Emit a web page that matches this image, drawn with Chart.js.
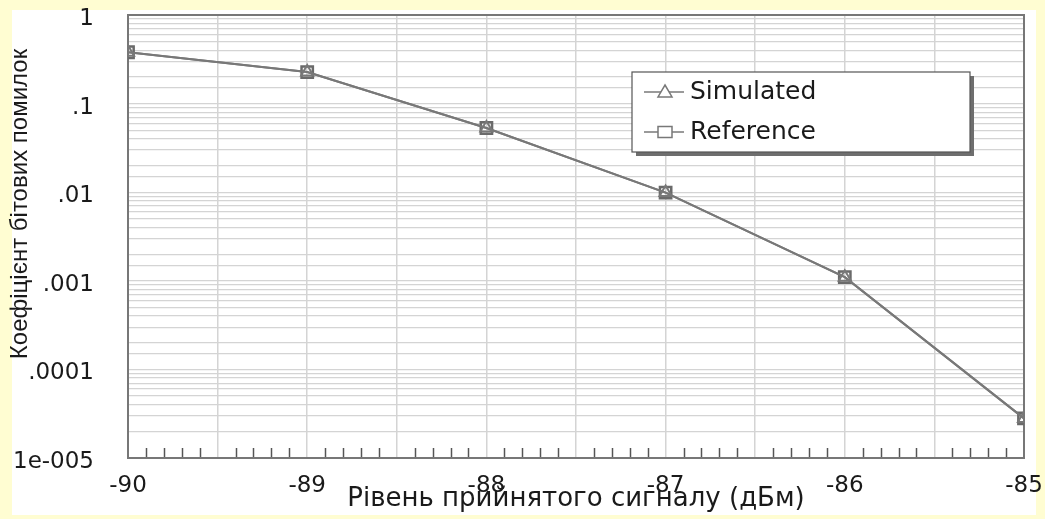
<!DOCTYPE html>
<html lang="uk">
<head>
<meta charset="utf-8">
<title>Коефіцієнт бітових помилок</title>
<script src="https://cdn.jsdelivr.net/npm/chart.js@4.4.1/dist/chart.umd.min.js"></script>
<style>
  html, body { margin: 0; padding: 0; background: #fffdd2; }
  #wrap { width: 1045px; height: 519px; position: relative; }
</style>
</head>
<body>
<div id="wrap"><canvas id="ber-chart"></canvas></div>
<script>
// Дані
const rivni = [-90, -89, -88, -87, -86, -85]; // дБм
const simulated = [0.38, 0.227, 0.053, 0.0099, 0.0011, 2.8e-5];
const reference = [0.38, 0.227, 0.053, 0.0099, 0.0011, 2.8e-5];
const yTickValues = [1, 0.1, 0.01, 0.001, 0.0001, 0.00001];
const yTickLabels = ["1", ".1", ".01", ".001", ".0001", "1e-005"];
const xTickLabels = ["-90", "-89", "-88", "-87", "-86", "-85"];

const yTitle = "Коефіцієнт бітових помилок";
const xTitle = "Рівень прийнятого сигналу (дБм)";

const lineColor = "#787878";
const textColor = "#1a1a1a";
const gridColor = "#d4d4d4";

// білий фон області графіка (навколо лишається жовта рамка)
const panelPlugin = {
  id: "panel",
  beforeDraw(chart) {
    const ctx = chart.ctx;
    ctx.save();
    ctx.fillStyle = "#ffffff";
    ctx.fillRect(12, 10, 1024, 505);
    ctx.restore();
  },
};

// дрібні риски на осі X (кожні 0.1) та рамка області
const framePlugin = {
  id: "frame",
  beforeDatasetsDraw(chart) {
    const { ctx, chartArea } = chart;
    const xs = chart.scales.x;
    ctx.save();
    ctx.strokeStyle = "#555555";
    ctx.lineWidth = 1.5;
    xs.ticks.forEach((t) => {
      const half = Math.abs(t.value * 2 - Math.round(t.value * 2));
      if (half < 1e-6) return;
      const px = Math.round(xs.getPixelForValue(t.value)) + 0.5;
      ctx.beginPath();
      ctx.moveTo(px, chartArea.bottom);
      ctx.lineTo(px, chartArea.bottom - 10);
      ctx.stroke();
    });
    ctx.strokeStyle = "#777777";
    ctx.lineWidth = 2;
    ctx.strokeRect(chartArea.left, chartArea.top, chartArea.width, chartArea.height);
    ctx.restore();
  },
  afterDraw(chart) {
    // назва осі Y
    const { ctx, chartArea } = chart;
    ctx.save();
    ctx.translate(20, chartArea.top + 189);
    ctx.rotate(-Math.PI / 2);
    ctx.fillStyle = textColor;
    ctx.font = "24px 'Liberation Sans', Arial, sans-serif";
    ctx.textAlign = "center";
    ctx.textBaseline = "middle";
    ctx.fillText(yTitle, 0, 0);
    ctx.restore();
  },
};

// легенда всередині області графіка
function drawMarker(ctx, style, x, y, r) {
  ctx.beginPath();
  if (style === "triangle") {
    ctx.moveTo(x, y - r);
    ctx.lineTo(x + r, y + r * 0.7);
    ctx.lineTo(x - r, y + r * 0.7);
    ctx.closePath();
  } else {
    ctx.rect(x - r, y - r * 0.8, 2 * r, 1.6 * r);
  }
  ctx.fill();
  ctx.stroke();
}

const legendPlugin = {
  id: "boxLegend",
  afterDraw(chart) {
    const { ctx, chartArea } = chart;
    const x = chartArea.left + 504;
    const y = chartArea.top + 57;
    const w = 338;
    const h = 80;
    ctx.save();
    ctx.fillStyle = "#6e6e6e";
    ctx.fillRect(x + 4, y + 4, w, h);
    ctx.fillStyle = "#ffffff";
    ctx.fillRect(x, y, w, h);
    ctx.strokeStyle = "#555555";
    ctx.lineWidth = 1.2;
    ctx.strokeRect(x, y, w, h);
    chart.data.datasets.forEach((ds, i) => {
      const cy = y + 20 + i * 40;
      ctx.strokeStyle = ds.borderColor;
      ctx.lineWidth = 1.5;
      ctx.beginPath();
      ctx.moveTo(x + 12, cy);
      ctx.lineTo(x + 52, cy);
      ctx.stroke();
      ctx.fillStyle = "#ffffff";
      drawMarker(ctx, ds.pointStyle, x + 33, cy, 7);
      ctx.fillStyle = textColor;
      ctx.font = "25px 'DejaVu Sans', sans-serif";
      ctx.textBaseline = "middle";
      ctx.fillText(ds.label, x + 58, cy);
    });
    ctx.restore();
  },
};

const ctx = document.getElementById("ber-chart").getContext("2d");

new Chart(ctx, {
  type: "line",
  data: {
    labels: rivni,
    datasets: [
      {
        label: "Simulated",
        data: rivni.map((x, i) => ({ x: x, y: simulated[i] })),
        borderColor: lineColor,
        backgroundColor: "rgba(255,255,255,0)",
        borderWidth: 2,
        pointStyle: "triangle",
        pointRadius: 7,
        pointBorderWidth: 2,
        pointBorderColor: lineColor,
        pointBackgroundColor: "rgba(255,255,255,0)",
        clip: 0,
      },
      {
        label: "Reference",
        data: rivni.map((x, i) => ({ x: x, y: reference[i] })),
        borderColor: lineColor,
        backgroundColor: "rgba(255,255,255,0)",
        borderWidth: 2,
        pointStyle: "rect",
        pointRadius: 8,
        pointBorderWidth: 2.5,
        pointBorderColor: "#6a6a6a",
        pointBackgroundColor: "rgba(255,255,255,0)",
        clip: 0,
      },
    ],
  },
  options: {
    responsive: true,
    maintainAspectRatio: false,
    animation: false,
    layout: { padding: { top: 15, right: 21, bottom: 0, left: 0 } },
    plugins: {
      legend: { display: false },
      tooltip: { enabled: false },
    },
    scales: {
      x: {
        type: "linear",
        min: -90,
        max: -85,
        border: { display: false },
        grid: {
          drawTicks: false,
          lineWidth: 1.5,
          color: (c) => {
            const v = c.tick ? c.tick.value : 0;
            return Math.abs(v * 2 - Math.round(v * 2)) < 1e-6 ? gridColor : "rgba(0,0,0,0)";
          },
        },
        ticks: {
          stepSize: 0.1,
          autoSkip: false,
          maxRotation: 0,
          padding: 14,
          color: textColor,
          font: { family: "'DejaVu Sans', sans-serif", size: 23 },
          callback: (v) => {
            const k = rivni.findIndex((r) => Math.abs(r - v) < 1e-6);
            return k >= 0 ? xTickLabels[k] : "";
          },
        },
        title: {
          display: true,
          text: xTitle,
          color: textColor,
          font: { family: "'DejaVu Sans', sans-serif", size: 26 },
          padding: { top: 0, bottom: 4 },
        },
        afterFit(scale) {
          scale.height = 61;
          scale.paddingLeft = 0;
          scale.paddingRight = 0;
        },
      },
      y: {
        type: "logarithmic",
        min: 0.00001,
        max: 1,
        border: { display: false },
        grid: { drawTicks: false, color: gridColor, lineWidth: 1.2 },
        ticks: {
          autoSkip: false,
          padding: 34,
          labelOffset: 4,
          color: textColor,
          font: { family: "'DejaVu Sans', sans-serif", size: 23 },
          callback: (v) => {
            const k = yTickValues.findIndex((t) => Math.abs(Math.log10(t) - Math.log10(v)) < 1e-6);
            return k >= 0 ? yTickLabels[k] : "";
          },
        },
        afterFit(scale) {
          scale.width = 128;
          scale.paddingTop = 0;
          scale.paddingBottom = 0;
        },
      },
    },
  },
  plugins: [panelPlugin, framePlugin, legendPlugin],
});
</script>
</body>
</html>
